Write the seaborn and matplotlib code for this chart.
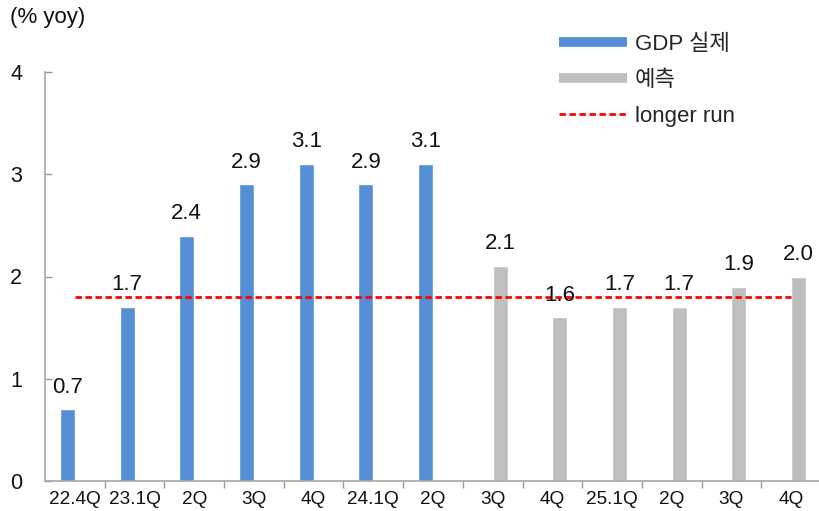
import matplotlib
matplotlib.use("Agg")
import matplotlib.pyplot as plt
from matplotlib.lines import Line2D
import seaborn as sns
import pandas as pd
import numpy as np

categories = ["22.4Q", "23.1Q", "2Q", "3Q", "4Q", "24.1Q", "2Q ", "3Q ", "4Q ", "25.1Q", "2Q  ", "3Q  ", "4Q  "]
tick_labels = ["22.4Q", "23.1Q", "2Q", "3Q", "4Q", "24.1Q", "2Q", "3Q", "4Q", "25.1Q", "2Q", "3Q", "4Q"]
actual = [0.7, 1.7, 2.4, 2.9, 3.1, 2.9, 3.1, None, None, None, None, None, None]
forecast = [None, None, None, None, None, None, None, 2.1, 1.6, 1.7, 1.7, 1.9, 2.0]
longer_run = [1.8] * 13
series_names = ["GDP 실제", "예측", "longer run"]

sns.set_theme(style="white")
plt.rcParams["font.family"] = ["Liberation Sans", "Noto Sans CJK KR", "DejaVu Sans"]

rows = []
for c, a, f in zip(categories, actual, forecast):
    rows.append({"cat": c, "series": series_names[0], "value": a if a is not None else np.nan})
    rows.append({"cat": c, "series": series_names[1], "value": f if f is not None else np.nan})
df = pd.DataFrame(rows)

fig = plt.figure(figsize=(8.2, 5.11), dpi=100)
ax = fig.add_axes([45 / 820, 30 / 511, 776 / 820, 409 / 511])

blue = "#558ED5"
gray = "#BFBFBF"
red = "#FF0000"
dash = (0, (2.3, 1.3))
sns.barplot(data=df, x="cat", y="value", hue="series", order=categories,
            hue_order=series_names[:2], palette=[blue, gray], width=0.5,
            dodge=True, ax=ax, legend=False, saturation=1, errorbar=None)

sns.lineplot(x=list(range(len(categories))), y=longer_run, ax=ax, color=red,
             linestyle=dash, linewidth=2, legend=False)

# value labels
for container in ax.containers:
    for bar in container:
        h = bar.get_height()
        if np.isnan(h):
            continue
        ax.text(bar.get_x() + bar.get_width() / 2, h + 0.165, f"{h:.1f}",
                ha="center", va="baseline", fontsize=16, color="#111111")

ax.set_xlim(-0.5, len(categories) - 0.5)
ax.set_ylim(0, 4)
ax.set_yticks([0, 1, 2, 3, 4])
ax.set_xticks(range(len(categories)))
ax.set_xticklabels(tick_labels, fontsize=13.7)
ax.set_xticks(np.arange(0.5, len(categories) - 0.5, 1), minor=True)
ax.tick_params(axis="x", which="major", length=0, pad=7, labelsize=13.7, colors="#111111")
ax.tick_params(axis="x", which="minor", length=5, direction="out", color="#999999", width=1, bottom=True)
ax.tick_params(axis="y", which="major", length=5, direction="in", color="#999999", width=1, left=True,
               labelsize=15.5, pad=25, labelcolor="#111111")
for lbl in ax.get_yticklabels():
    lbl.set_horizontalalignment("left")
ax.set_xlabel("")
ax.set_ylabel("")
for s in ["top", "right"]:
    ax.spines[s].set_visible(False)
for s in ["left", "bottom"]:
    ax.spines[s].set_color("#A6A6A6")
    ax.spines[s].set_linewidth(1.2)

fig.text(10 / 820, 1 - 18 / 511, "(% yoy)", fontsize=16, va="center", ha="left", color="#111111")

handles = [Line2D([0], [0], color=blue, lw=7, solid_capstyle="butt"),
           Line2D([0], [0], color=gray, lw=7, solid_capstyle="butt"),
           Line2D([0], [0], color=red, lw=2, linestyle=dash)]
fig.legend(handles, series_names, loc="upper left", bbox_to_anchor=(559 / 820, 1 - 34 / 511),
           frameon=False, fontsize=16, handlelength=3.06, handletextpad=0.36, labelspacing=0.68,
           borderpad=0, borderaxespad=0)

fig.savefig("out.png", dpi=100)
